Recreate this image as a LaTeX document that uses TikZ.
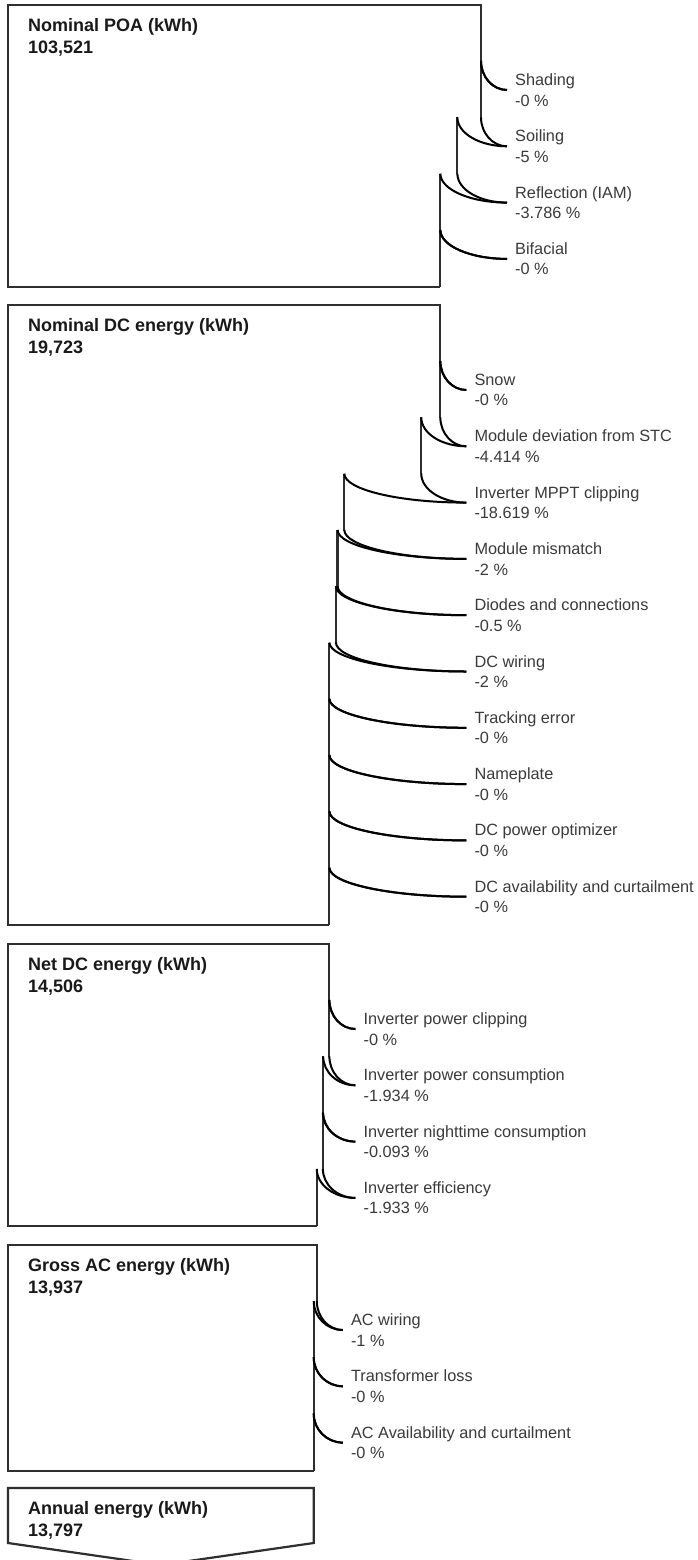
\documentclass[tikz,border=0pt]{standalone}
\usepackage{fontspec}
\setmainfont{Liberation Sans}
\usepackage{xcolor}
\definecolor{edgegray}{HTML}{2E2E2E}
\definecolor{labelgray}{HTML}{3A3A3A}
\def\lossgap{56.3} % vertical pitch of the loss labels
\def\boxleft{8}

\begin{document}
\begin{tikzpicture}[x=1pt, y=-1pt,
    edge/.style={draw=edgegray, line width=2.2pt},
    loss/.style={draw=black, line width=2pt},
    ttl/.style={anchor=north west, inner sep=0pt, align=left, text=black!90,
      font=\fontsize{18}{22}\selectfont\bfseries},
    lbl/.style={anchor=west, inner xsep=8pt, inner ysep=0pt, align=left,
      text=labelgray, font=\fontsize{16.3}{20.5}\selectfont}]
  \useasboundingbox (0,0) rectangle (698,1560);

  % nominal POA
  \node[ttl] (poa) at (28,18) {Nominal POA (kWh)\\103,521};
  \draw[edge] (440.34,287) -- (\boxleft,287) -- (\boxleft,5) -- (481,5) -- (481,61);
  \foreach \i/\xo/\xn/\txt/\pct in {1/481/481/Shading/-0,
      2/481/457.35/Soiling/-5,
      3/457.35/440.34/Reflection (IAM)/-3.786,
      4/440.34/440.34/Bifacial/-0}{
    \pgfmathsetmacro\yend{90+(\i-1)*\lossgap}
    \pgfmathsetmacro\ytop{\yend-29}
    \node[lbl] (poa\i) at (507,\yend) {\txt\\\pct\ \%};
    \coordinate (poao\i) at (\xo,\ytop);
    \coordinate (poan\i) at (\xn,\ytop);
    \draw[edge] (poan\i) -- ++(0,57);
    \draw[loss] (poao\i) .. controls +(0,16) and +({0.55*(\xo-507)},0) .. (poa\i.west);
    \draw[loss] (poan\i) .. controls +(0,16) and +({0.55*(\xn-507)},0) .. (poa\i.west);
  }

  % nominal DC
  \node[ttl] (dc) at (28,318) {Nominal DC energy (kWh)\\19,723};
  \draw[edge] (329.38,924.7) -- (\boxleft,924.7) -- (\boxleft,305) -- (440.34,305) -- (440.34,361);
  \foreach \i/\xo/\xn/\txt/\pct in {1/440.34/440.34/Snow/-0,
      2/440.34/421.25/Module deviation from STC/-4.414,
      3/421.25/344.31/Inverter MPPT clipping/-18.619,
      4/344.31/337.58/Module mismatch/-2,
      5/337.58/335.93/Diodes and connections/-0.5,
      6/335.93/329.38/DC wiring/-2,
      7/329.38/329.38/Tracking error/-0,
      8/329.38/329.38/Nameplate/-0,
      9/329.38/329.38/DC power optimizer/-0,
      10/329.38/329.38/DC availability and curtailment/-0}{
    \pgfmathsetmacro\yend{390+(\i-1)*\lossgap}
    \pgfmathsetmacro\ytop{\yend-29}
    \node[lbl] (dc\i) at (466.3,\yend) {\txt\\\pct\ \%};
    \coordinate (dco\i) at (\xo,\ytop);
    \coordinate (dcn\i) at (\xn,\ytop);
    \draw[edge] (dcn\i) -- ++(0,57);
    \draw[loss] (dco\i) .. controls +(0,16) and +({0.55*(\xo-466.3)},0) .. (dc\i.west);
    \draw[loss] (dcn\i) .. controls +(0,16) and +({0.55*(\xn-466.3)},0) .. (dc\i.west);
  }

  % net DC
  \node[ttl] (net) at (28,957) {Net DC energy (kWh)\\14,506};
  \draw[edge] (316.78,1225.9) -- (\boxleft,1225.9) -- (\boxleft,944) -- (329.38,944) -- (329.38,1000);
  \foreach \i/\xo/\xn/\txt/\pct in {1/329.38/329.38/Inverter power clipping/-0,
      2/329.38/323.16/Inverter power consumption/-1.934,
      3/323.16/322.87/Inverter nighttime consumption/-0.093,
      4/322.87/316.78/Inverter efficiency/-1.933}{
    \pgfmathsetmacro\yend{1029+(\i-1)*\lossgap}
    \pgfmathsetmacro\ytop{\yend-29}
    \node[lbl] (net\i) at (355.4,\yend) {\txt\\\pct\ \%};
    \coordinate (neto\i) at (\xo,\ytop);
    \coordinate (netn\i) at (\xn,\ytop);
    \draw[edge] (netn\i) -- ++(0,57);
    \draw[loss] (neto\i) .. controls +(0,16) and +({0.55*(\xo-355.4)},0) .. (net\i.west);
    \draw[loss] (netn\i) .. controls +(0,16) and +({0.55*(\xn-355.4)},0) .. (net\i.west);
  }

  % gross AC
  \node[ttl] (ac) at (28,1258) {Gross AC energy (kWh)\\13,937};
  \draw[edge] (313.70,1470.6) -- (\boxleft,1470.6) -- (\boxleft,1245) -- (316.78,1245) -- (316.78,1301);
  \foreach \i/\xo/\xn/\txt/\pct in {1/316.78/313.70/AC wiring/-1,
      2/313.70/313.70/Transformer loss/-0,
      3/313.70/313.70/AC Availability and curtailment/-0}{
    \pgfmathsetmacro\yend{1330+(\i-1)*\lossgap}
    \pgfmathsetmacro\ytop{\yend-29}
    \node[lbl] (ac\i) at (342.8,\yend) {\txt\\\pct\ \%};
    \coordinate (aco\i) at (\xo,\ytop);
    \coordinate (acn\i) at (\xn,\ytop);
    \draw[edge] (acn\i) -- ++(0,57);
    \draw[loss] (aco\i) .. controls +(0,16) and +({0.55*(\xo-342.8)},0) .. (ac\i.west);
    \draw[loss] (acn\i) .. controls +(0,16) and +({0.55*(\xn-342.8)},0) .. (ac\i.west);
  }

  % annual energy
  \draw[edge] (\boxleft,1488) -- (313.70,1488) -- (313.70,1543) -- (160.85,1565)
    -- (\boxleft,1543) -- cycle;
  \node[ttl] (annual) at (28,1501) {Annual energy (kWh)\\13,797};
\end{tikzpicture}
\end{document}
